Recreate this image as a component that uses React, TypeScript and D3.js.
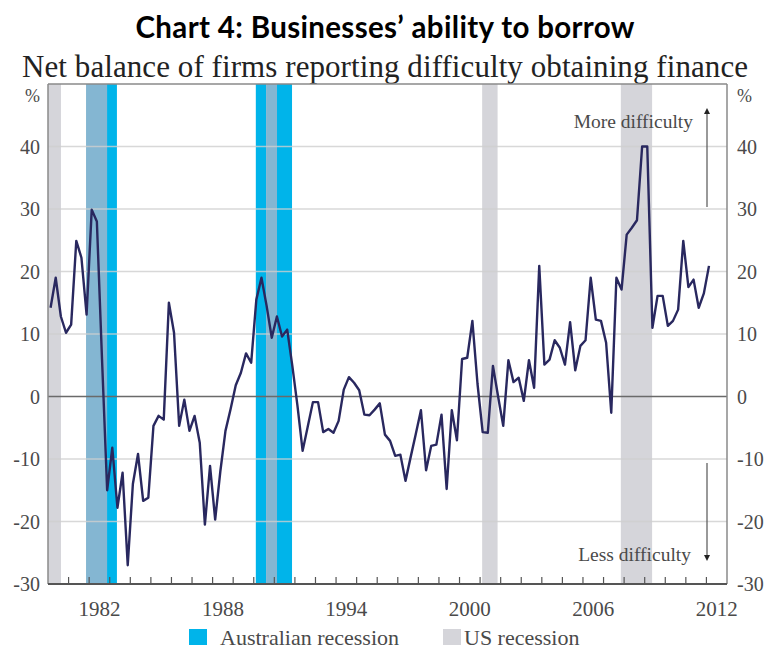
import React from "react";
import * as d3 from "d3";

const title = "Chart 4: Businesses\u2019 ability to borrow";
const subtitle = "Net balance of firms reporting difficulty obtaining finance";

// Quarterly net balance (%), starting 1980 Q1
const startYear = 1980;
const netBalance = [
  14.2, 19, 12.8, 10.2, 11.5, 24.9, 22.2, 13.1, 29.9, 28,
  6, -15, -8.2, -17.8, -12.2, -27, -14, -9.2, -16.7, -16.2,
  -4.7, -3.1, -3.7, 15, 10.2, -4.7, -0.5, -5.5, -3.1, -7.4,
  -20.5, -11.1, -19.7, -12, -5.5, -2, 1.8, 3.8, 6.9, 5.4,
  15.5, 19, 14.5, 9.4, 12.8, 9.6, 10.7, 4.9, -1.5, -8.7,
  -4.8, -0.9, -0.9, -5.7, -5.2, -5.8, -3.9, 1.1, 3.1, 2.2,
  1.0, -2.9, -3.0, -2.1, -1.1, -6.1, -7.1, -9.5, -9.3, -13.5,
  -9.7, -6, -2.2, -11.8, -7.9, -7.7, -2.9, -14.8, -2.2, -7,
  6, 6.2, 12.1, 2, -5.7, -5.8, 4.9, 0, -4.7, 5.8,
  2.3, 3, -0.7, 5.8, 1.4, 20.9, 5.1, 5.9, 9, 7.8,
  5.1, 11.9, 4.2, 8.1, 9, 19, 12.3, 12.1, 8.6, -2.6,
  19, 17.1, 25.9, 27, 28.2, 40, 40, 11, 16.1, 16.1,
  11.3, 12.1, 13.9, 24.9, 17.5, 18.7, 14.2, 16.5, 20.9,
];

const ausRecessions: [number, number][] = [
  [1981.85, 1983.35],
  [1990.1, 1991.86],
];
const usRecessions: [number, number][] = [
  [1980.0, 1980.63],
  [1981.85, 1982.87],
  [1990.6, 1991.13],
  [2001.1, 2001.85],
  [2007.84, 2009.36],
];

const yTicks = [-30, -20, -10, 0, 10, 20, 30, 40];
const xLabelYears = [1982, 1988, 1994, 2000, 2006, 2012];
const legendItems = ["Australian recession", "US recession"];

const W = 772;
const H = 649;
const M = { left: 48, right: 727, top: 84, bottom: 584 };

const CYAN = "#00b4ea";
const GREY = "#d5d5da";
const OVERLAP = "#84b6d2";
const LINE = "#29285f";
const TEXT = "#4a4a4a";

export default function App() {
  const x = d3.scaleLinear().domain([1980, 2013]).range([M.left, M.right]);
  const y = d3.scaleLinear().domain([-30, 50]).range([M.bottom, M.top]);

  const pts = netBalance.map((v, i) => ({ t: startYear + 0.125 + 0.25 * i, v }));
  const line = d3
    .line<{ t: number; v: number }>()
    .x((d) => x(d.t))
    .y((d) => y(d.v));

  const overlaps: [number, number][] = [];
  usRecessions.forEach(([a, b]) => {
    ausRecessions.forEach(([c, e]) => {
      const s = Math.max(a, c);
      const f = Math.min(b, e);
      if (f > s) overlaps.push([s, f]);
    });
  });

  const yearTicks = d3.range(1981, 2013);
  const serif = "'Liberation Serif', 'DejaVu Serif', serif";

  return (
    <svg width={W} height={H} style={{ display: "block", position: "absolute", left: 0, top: 0 }}>
      <rect x={0} y={0} width={W} height={H} fill="#ffffff" />
      <text
        x={385}
        y={38}
        textAnchor="middle"
        fontFamily="Lato, 'Open Sans', sans-serif"
        fontWeight="bold"
        fontSize={29.5}
        textLength={499}
        lengthAdjust="spacing"
        fill="#000"
      >
        {title}
      </text>
      <text
        x={385}
        y={77}
        textAnchor="middle"
        fontFamily={serif}
        fontSize={31}
        textLength={726}
        lengthAdjust="spacing"
        fill="#222"
      >
        {subtitle}
      </text>

      {/* recession bands */}
      {ausRecessions.map(([a, b], i) => (
        <rect key={"a" + i} x={x(a)} y={M.top} width={x(b) - x(a)} height={M.bottom - M.top} fill={CYAN} />
      ))}
      {usRecessions.map(([a, b], i) => (
        <rect key={"u" + i} x={x(a)} y={M.top} width={x(b) - x(a)} height={M.bottom - M.top} fill={GREY} />
      ))}
      {overlaps.map(([a, b], i) => (
        <rect key={"o" + i} x={x(a)} y={M.top} width={x(b) - x(a)} height={M.bottom - M.top} fill={OVERLAP} />
      ))}

      {/* gridlines */}
      {yTicks
        .filter((t) => t !== 0 && t !== -30)
        .map((t) => (
          <line key={"g" + t} x1={M.left} x2={M.right} y1={y(t)} y2={y(t)} stroke="#cfcfcf" strokeWidth={1.5} opacity={0.8} />
        ))}
      <line x1={M.left} x2={M.right} y1={y(0)} y2={y(0)} stroke="#6a6a6a" strokeWidth={1.6} />

      {/* frame */}
      <line x1={M.left} x2={M.left} y1={M.top} y2={M.bottom} stroke="#8a8a8a" strokeWidth={1.5} />
      <line x1={M.right} x2={M.right} y1={M.top} y2={M.bottom} stroke="#8a8a8a" strokeWidth={1.5} />
      <line x1={M.left} x2={M.right} y1={M.top} y2={M.top} stroke="#8a8a8a" strokeWidth={1.5} />
      <line x1={M.left} x2={M.right} y1={M.bottom} y2={M.bottom} stroke="#555" strokeWidth={2} />
      {yearTicks.map((yr) => (
        <line key={"t" + yr} x1={x(yr)} x2={x(yr)} y1={M.bottom} y2={M.bottom - 7} stroke="#555" strokeWidth={1.2} />
      ))}

      {/* data line */}
      <path d={line(pts) || ""} fill="none" stroke={LINE} strokeWidth={2.4} strokeLinejoin="round" />

      {/* y labels */}
      {yTicks.map((t) => (
        <g key={"yl" + t} fontFamily={serif} fontSize={20} fill={TEXT}>
          <text x={40} y={y(t)} dy="0.35em" textAnchor="end">{t}</text>
          <text x={737} y={y(t)} dy="0.35em" textAnchor="start">{t}</text>
        </g>
      ))}
      <text x={40} y={M.top + 12} dy="0.35em" textAnchor="end" fontFamily={serif} fontSize={18} fill={TEXT}>%</text>
      <text x={737} y={M.top + 12} dy="0.35em" textAnchor="start" fontFamily={serif} fontSize={18} fill={TEXT}>%</text>

      {/* x labels */}
      {xLabelYears.map((yr) => (
        <text key={"xl" + yr} x={x(yr + 0.5)} y={616} textAnchor="middle" fontFamily={serif} fontSize={21} fill={TEXT}>
          {yr}
        </text>
      ))}

      {/* annotations */}
      <text x={693} y={128} textAnchor="end" fontFamily={serif} fontSize={19.5} fill={TEXT}>More difficulty</text>
      <line x1={707} x2={707} y1={207} y2={113} stroke="#555" strokeWidth={1.2} />
      <path d="M704,114 L707,108 L710,114 Z" fill="#222" />
      <text x={691} y={561} textAnchor="end" fontFamily={serif} fontSize={19.5} fill={TEXT}>Less difficulty</text>
      <line x1={707} x2={707} y1={463} y2={556} stroke="#555" strokeWidth={1.2} />
      <path d="M704,555 L707,561 L710,555 Z" fill="#222" />

      {/* legend */}
      <rect x={189} y={629} width={18} height={16} fill={CYAN} />
      <text x={220} y={645} fontFamily={serif} fontSize={22} fill={TEXT}>{legendItems[0]}</text>
      <rect x={443} y={629} width={18} height={16} fill={GREY} />
      <text x={464} y={645} fontFamily={serif} fontSize={22} fill={TEXT}>{legendItems[1]}</text>
    </svg>
  );
}
